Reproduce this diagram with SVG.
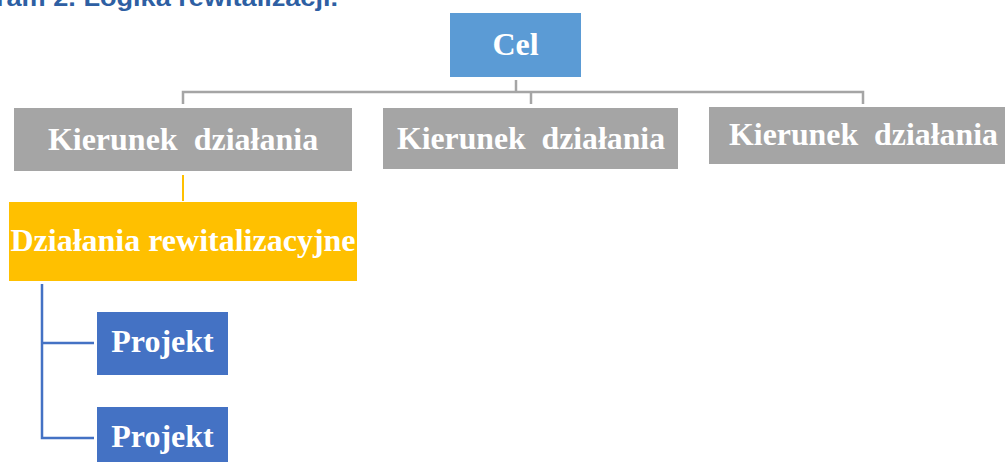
<svg xmlns="http://www.w3.org/2000/svg" width="1005" height="462" viewBox="0 0 1005 462">
<style>
.lbl{font-family:"Liberation Serif","Times New Roman",serif;font-weight:bold;font-size:32px;fill:#ffffff;white-space:pre}
.title{font-family:"Liberation Sans",Arial,sans-serif;font-weight:bold;font-size:24px;fill:#2E5FA3}
.gray{fill:#A5A5A5}
.conn{fill:none;stroke-linejoin:miter}
</style>
<rect width="1005" height="462" fill="#ffffff"/>
<text class="title" x="-4" y="6" textLength="342" lengthAdjust="spacingAndGlyphs">ram 2. Logika rewitalizacji.</text>
<g id="connectors" class="conn">
<polyline points="516,80 516,92" stroke="#A5A5A5" stroke-width="2.5"/>
<polyline points="183,104 183,92 863,92 863,104" stroke="#A5A5A5" stroke-width="2.5"/>
<line x1="531" y1="92" x2="531" y2="104" stroke="#A5A5A5" stroke-width="2.5"/>
<line x1="183" y1="175" x2="183" y2="201" stroke="#FFC000" stroke-width="2"/>
<polyline points="42,284 42,438 94,438" stroke="#4472C4" stroke-width="2.5"/>
<line x1="42" y1="343" x2="94" y2="343" stroke="#4472C4" stroke-width="2.5"/>
</g>
<g id="cel">
<rect x="450" y="13" width="131" height="64" fill="#5B9BD5"/>
<text class="lbl" x="515.5" y="55" text-anchor="middle">Cel</text>
</g>
<g id="kierunek1">
<rect class="gray" x="14" y="108" width="338" height="63"/>
<text class="lbl" x="183" y="150" text-anchor="middle">Kierunek  działania</text>
</g>
<g id="kierunek2">
<rect class="gray" x="383" y="108" width="295" height="61"/>
<text class="lbl" x="531" y="149" text-anchor="middle" textLength="268" lengthAdjust="spacingAndGlyphs">Kierunek  działania</text>
</g>
<g id="kierunek3">
<rect class="gray" x="709" y="107" width="300" height="57"/>
<text class="lbl" x="729" y="145" textLength="269" lengthAdjust="spacingAndGlyphs">Kierunek  działania</text>
</g>
<g id="dzialania">
<rect x="9" y="202" width="348" height="79" fill="#FFC000"/>
<text class="lbl" x="183" y="251" text-anchor="middle">Działania rewitalizacyjne</text>
</g>
<g id="projekt1">
<rect x="97" y="312" width="131" height="63" fill="#4472C4"/>
<text class="lbl" x="162.5" y="352" text-anchor="middle">Projekt</text>
</g>
<g id="projekt2">
<rect x="97" y="407" width="131" height="63" fill="#4472C4"/>
<text class="lbl" x="162.5" y="447" text-anchor="middle">Projekt</text>
</g>
</svg>
